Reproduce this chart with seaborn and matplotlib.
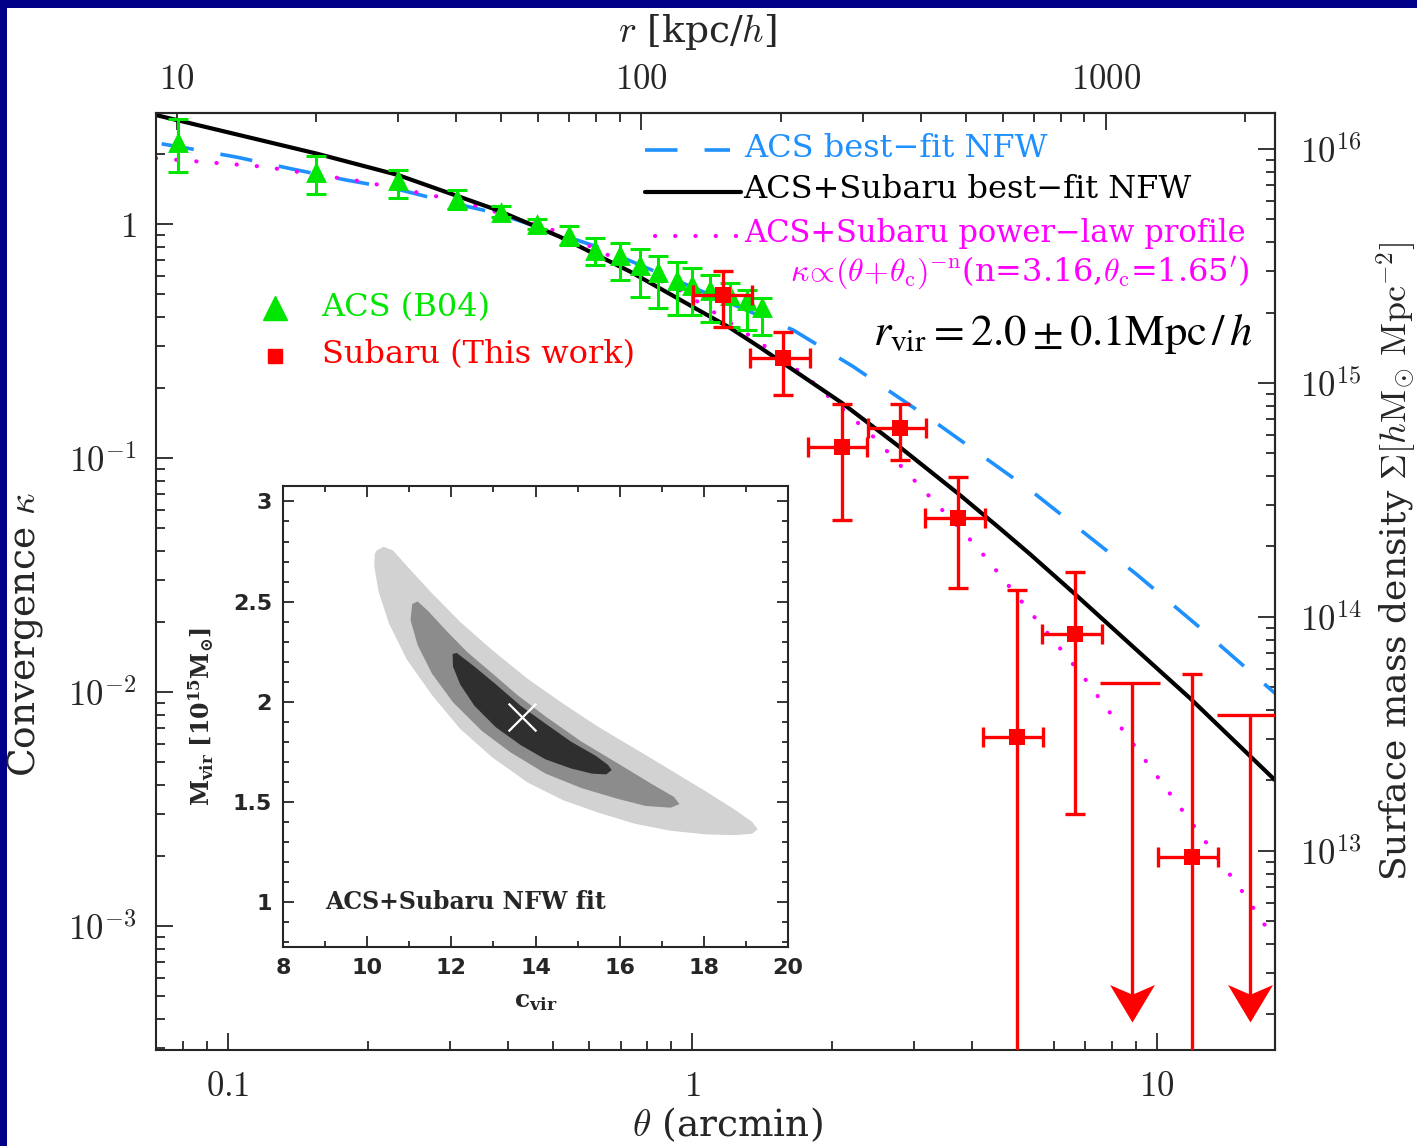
import numpy as np
import pandas as pd
import matplotlib
matplotlib.use('Agg')
import matplotlib.pyplot as plt
import seaborn as sns
from matplotlib.patches import Rectangle
from matplotlib.path import Path
from matplotlib.ticker import FuncFormatter, FixedLocator, NullFormatter, MultipleLocator

# ---- data ----
# ACS (B04) triangles: theta [arcmin], kappa, lower / upper error
acs_theta = [0.078, 0.155, 0.232, 0.311, 0.387, 0.462, 0.543, 0.617, 0.698, 0.771,
             0.843, 0.926, 1.0, 1.09, 1.204, 1.31, 1.41]
acs_kappa = [2.25, 1.67, 1.54, 1.275, 1.13, 1.0, 0.897, 0.774, 0.737, 0.668,
             0.624, 0.576, 0.548, 0.522, 0.497, 0.473, 0.442]
acs_err_lo = [0.58, 0.33, 0.25, 0.12, 0.06, 0.05, 0.08, 0.106, 0.16, 0.18,
              0.186, 0.168, 0.14, 0.14, 0.134, 0.12, 0.106]
acs_err_hi = [0.55, 0.28, 0.16, 0.125, 0.06, 0.05, 0.08, 0.095, 0.09, 0.114,
              0.106, 0.112, 0.10, 0.083, 0.063, 0.05, 0.041]

# Subaru (this work) squares
sub_theta = [1.165, 1.569, 2.096, 2.797, 3.734, 4.99, 6.66, 11.88]
sub_kappa = [0.497, 0.2667, 0.1117, 0.134, 0.0553, 0.00644, 0.0177, 0.00198]
sub_kerr = [0.135, 0.080, 0.0576, 0.036, 0.0275, 0.0209, 0.0147, 0.0099]
sub_theta_lo = [1.002, 1.33, 1.776, 2.39, 3.166, 4.23, 5.65, 10.07]
sub_theta_hi = [1.343, 1.79, 2.371, 3.19, 4.264, 5.69, 7.6, 13.55]

# Subaru upper limits
lim_theta = [8.82, 15.86]
lim_kappa = [0.01089, 0.00797]
lim_theta_lo = [7.54, 13.44]
lim_theta_hi = [10.15, 18.7]
arrow_tip = 3.9e-4

# model curves
nfw_theta = [0.07, 0.155, 0.232, 0.379, 0.518, 0.734, 1.204, 1.39, 2.096, 2.8,
             3.73, 4.59, 5.33, 6.66, 8.82, 11.78, 17.95]
nfw_kappa = [2.92, 2.0, 1.62, 1.148, 0.882, 0.626, 0.36, 0.299, 0.172, 0.111,
             0.0705, 0.050, 0.0388, 0.0262, 0.0158, 0.0094, 0.0042]
acs_nfw_theta = [0.072, 0.0815, 0.1044, 0.137, 0.18, 0.231, 0.296, 0.379, 0.622,
                 1.648, 2.22, 3.355, 5.33, 9.04, 12.18, 17.95]
acs_nfw_kappa = [2.2, 2.11, 1.93, 1.72, 1.54, 1.41, 1.245, 1.111, 0.80,
                 0.352, 0.2455, 0.1407, 0.073, 0.0318, 0.01933, 0.00987]
pl_theta = [0.07, 0.119, 0.1956, 0.321, 0.527, 0.94, 1.39, 1.762, 2.45, 4.09,
            6.94, 15.09, 17.95]
pl_kappa = [1.91, 1.758, 1.516, 1.245, 0.912, 0.522, 0.314, 0.222, 0.1234, 0.0418,
            0.01162, 0.00145, 0.00087]

# axis conversions
kpc_per_arcmin = 129.0
sigma_crit = 4.78e15

# inset: confidence contours in (c_vir, M_vir)
c_outer = [10.23, 10.39, 10.61, 11.03, 11.54, 12.21, 12.98, 13.82, 14.67, 15.51, 16.36,
           17.21, 18.05, 18.73, 19.15, 19.28, 19.15, 18.73, 18.05, 17.21, 16.36, 15.51,
           14.67, 13.82, 12.98, 12.21, 11.54, 10.94, 10.52, 10.27, 10.17, 10.18]
m_outer = [2.756, 2.774, 2.756, 2.658, 2.542, 2.399, 2.257, 2.114, 1.989, 1.873, 1.767,
           1.660, 1.553, 1.463, 1.401, 1.365, 1.342, 1.335, 1.339, 1.357, 1.392, 1.446,
           1.508, 1.597, 1.722, 1.865, 2.034, 2.212, 2.390, 2.551, 2.676, 2.738]
c_mid = [11.07, 11.20, 11.45, 11.88, 12.38, 12.98, 13.57, 14.24, 15.09, 15.94, 16.78,
         17.29, 17.42, 17.21, 16.61, 15.94, 15.09, 14.24, 13.40, 12.72, 12.04, 11.54,
         11.20, 11.03]
m_mid = [2.488, 2.501, 2.453, 2.355, 2.248, 2.141, 2.034, 1.927, 1.802, 1.695, 1.588,
         1.526, 1.490, 1.472, 1.481, 1.517, 1.570, 1.642, 1.749, 1.856, 1.998, 2.141,
         2.283, 2.408]
c_in = [12.03, 12.13, 12.55, 13.06, 13.65, 14.24, 14.84, 15.43, 15.72, 15.81, 15.68,
        15.34, 14.84, 14.24, 13.65, 13.06, 12.55, 12.21, 12.04]
m_in = [2.239, 2.244, 2.176, 2.087, 1.980, 1.891, 1.802, 1.731, 1.686, 1.660, 1.638,
        1.642, 1.668, 1.713, 1.784, 1.873, 1.980, 2.087, 2.176]
best_c = [13.67]
best_m = [1.927]

GREEN = '#00e600'
RED = '#ff0000'
BLUE = '#1e90ff'
MAGENTA = '#ff00ff'

sns.set_style('ticks')
plt.rcParams['font.family'] = ['DejaVu Serif', 'DejaVu Sans']
plt.rcParams['mathtext.fontset'] = 'cm'
plt.rcParams['axes.linewidth'] = 1.5


def log_ticks(lo, hi):
    """decade ticks and 2..9 minor ticks that fall inside [lo, hi]"""
    major, minor = [], []
    for e in range(int(np.floor(np.log10(lo))), int(np.ceil(np.log10(hi))) + 1):
        for m in range(1, 10):
            v = m * 10.0 ** e
            if lo <= v <= hi:
                (major if m == 1 else minor).append(v)
    return major, minor


fig = plt.figure(figsize=(14.17, 11.46), dpi=100)
fig.patch.set_facecolor('#000088')
fig.add_artist(Rectangle((7 / 1417, 0), 1, 1 - 8 / 1146, transform=fig.transFigure,
                         facecolor='white', edgecolor='none', zorder=-10))

ax = fig.add_axes([156 / 1417, 96 / 1146, 1119 / 1417, 937 / 1146])
ax.set_facecolor('white')
ax.set_xscale('log')
ax.set_yscale('log', nonpositive='clip')
xlo, xhi = 0.0700, 17.95
ylo, yhi = 2.95e-4, 2.98

# model curves
sns.lineplot(data=pd.DataFrame({'theta': acs_nfw_theta, 'kappa': acs_nfw_kappa}),
             x='theta', y='kappa', ax=ax, color=BLUE, lw=2.6, linestyle=(0, (9, 7.5)),
             estimator=None, sort=False, zorder=2)
sns.lineplot(data=pd.DataFrame({'theta': pl_theta, 'kappa': pl_kappa}),
             x='theta', y='kappa', ax=ax, color=MAGENTA, lw=3, linestyle=(0, (0.05, 4.8)),
             dash_capstyle='round', estimator=None, sort=False, zorder=2)
sns.lineplot(data=pd.DataFrame({'theta': nfw_theta, 'kappa': nfw_kappa}),
             x='theta', y='kappa', ax=ax, color='black', lw=3, estimator=None, sort=False,
             zorder=2.5)

# ACS points
ax.errorbar(acs_theta, acs_kappa, yerr=[acs_err_lo, acs_err_hi], fmt='none', ecolor=GREEN,
            elinewidth=2.2, capsize=7, capthick=2.2, zorder=3)
sns.scatterplot(x=acs_theta, y=acs_kappa, ax=ax, marker='^', s=15 ** 2, color=GREEN,
                edgecolor=GREEN, linewidth=0, zorder=3.5)

# Subaru points
sub_t = np.array(sub_theta)
ax.errorbar(sub_theta, sub_kappa, yerr=sub_kerr,
            xerr=[sub_t - np.array(sub_theta_lo), np.array(sub_theta_hi) - sub_t],
            fmt='none', ecolor=RED, elinewidth=2.4, capsize=7, capthick=2.4, zorder=4)
sns.scatterplot(x=sub_theta, y=sub_kappa, ax=ax, marker='s', s=11 ** 2, color=RED,
                edgecolor=RED, linewidth=0, zorder=4.5)

# upper limits: bin bar, vertical line and a notched arrow head
lim_t = np.array(lim_theta)
ax.errorbar(lim_theta, lim_kappa,
            xerr=[lim_t - np.array(lim_theta_lo), np.array(lim_theta_hi) - lim_t],
            fmt='none', ecolor=RED, elinewidth=2.4, capsize=0, zorder=4)
ax.vlines(lim_theta, [arrow_tip * 1.3] * len(lim_theta), lim_kappa, color=RED, lw=2.4,
          zorder=4)
head = Path([(0, 0), (-0.6, 1), (0, 0.74), (0.6, 1), (0, 0)],
            [Path.MOVETO, Path.LINETO, Path.LINETO, Path.LINETO, Path.CLOSEPOLY])
ax.plot(lim_theta, [arrow_tip] * len(lim_theta), marker=head, ms=54, color=RED,
        mew=0, ls='none', zorder=4)

ax.set_xlim(xlo, xhi)
ax.set_ylim(ylo, yhi)

# ticks
ax.tick_params(which='both', direction='in', top=False, right=False, width=1.3)
ax.tick_params(which='major', length=12, pad=14, labelsize=25)
ax.tick_params(which='minor', length=6.5)
mj, mn = log_ticks(xlo, xhi)
ax.xaxis.set_major_locator(FixedLocator(mj))
ax.xaxis.set_minor_locator(FixedLocator(mn))
mj, mn = log_ticks(ylo, yhi)
ax.yaxis.set_major_locator(FixedLocator(mj))
ax.yaxis.set_minor_locator(FixedLocator(mn))
ax.xaxis.set_minor_formatter(NullFormatter())
ax.yaxis.set_minor_formatter(NullFormatter())


def xfmt(v, pos):
    if v < 1:
        return r'$%g$' % v
    return r'$%d$' % round(v)


def yfmt(v, pos):
    e = int(round(np.log10(v)))
    if e == 0:
        return r'$1$'
    return r'$10^{%d}$' % e


ax.xaxis.set_major_formatter(FuncFormatter(xfmt))
ax.yaxis.set_major_formatter(FuncFormatter(yfmt))

ax.set_xlabel(r'$\theta$ (arcmin)', fontsize=27)
ax.xaxis.set_label_coords(0.511, -0.080)
ax.xaxis.label.set_va('center')
ax.set_ylabel(r'Convergence $\kappa$', fontsize=27)
ax.yaxis.set_label_coords(-0.117, 0.443)
ax.yaxis.label.set_va('center')

# top axis: r [kpc/h]
top = ax.secondary_xaxis('top', functions=(lambda t: t * kpc_per_arcmin,
                                           lambda r: r / kpc_per_arcmin))
top.tick_params(which='both', direction='in', width=1.3)
top.tick_params(which='major', length=12, pad=12, labelsize=25)
top.tick_params(which='minor', length=6.5)
mj, mn = log_ticks(xlo * kpc_per_arcmin, xhi * kpc_per_arcmin)
top.xaxis.set_major_locator(FixedLocator(mj))
top.xaxis.set_minor_locator(FixedLocator(mn))
top.xaxis.set_major_formatter(FuncFormatter(lambda v, p: r'$%d$' % round(v)))
top.xaxis.set_minor_formatter(NullFormatter())
ax.text(0.4835, 1.0865, r'$r$ [kpc/$h$]', transform=ax.transAxes, fontsize=27,
        ha='center', va='center')

# right axis: surface mass density
right = ax.secondary_yaxis('right', functions=(lambda k: k * sigma_crit,
                                               lambda s: s / sigma_crit))
right.tick_params(which='both', direction='in', width=1.3)
right.tick_params(which='major', length=12, pad=18, labelsize=25)
right.tick_params(which='minor', length=6.5)
mj, mn = log_ticks(ylo * sigma_crit, yhi * sigma_crit)
right.yaxis.set_major_locator(FixedLocator(mj))
right.yaxis.set_minor_locator(FixedLocator(mn))
right.yaxis.set_major_formatter(FuncFormatter(lambda v, p: r'$10^{%d}$' % round(np.log10(v))))
right.yaxis.set_minor_formatter(NullFormatter())
ax.text(1.109, 0.521, r'Surface mass density $\Sigma[h\mathrm{M}_{\odot}\ \mathrm{Mpc}^{-2}]$',
        transform=ax.transAxes, fontsize=26, rotation=90, ha='center', va='center')

# legends (drawn by hand, as in the original)
tr = ax.transAxes
ax.plot([0.437, 0.513], [0.9605, 0.9605], transform=tr, color=BLUE, lw=2.6,
        linestyle=(0, (9, 7.5)))
ax.text(0.526, 0.9626, 'ACS best\u2212fit NFW', transform=tr, color=BLUE, fontsize=23,
        va='center', ha='left')
ax.plot([0.437, 0.523], [0.9157, 0.9157], transform=tr, color='black', lw=3)
ax.text(0.5246, 0.918, 'ACS+Subaru best\u2212fit NFW', transform=tr, color='black',
        fontsize=23, va='center', ha='left')
ax.plot([0.446, 0.522], [0.8687, 0.8687], transform=tr, color=MAGENTA, lw=3,
        linestyle=(0, (0.05, 4.8)), dash_capstyle='round')
ax.text(0.526, 0.871, 'ACS+Subaru power\u2212law profile', transform=tr, color=MAGENTA,
        fontsize=22, va='center', ha='left')
ax.text(0.9777, 0.830,
        r'$\kappa\!\propto\!(\theta\!+\!\theta_\mathrm{c})^{-\mathrm{n}}$(n=3.16,$\theta_\mathrm{c}$=1.65$^{\prime}$)',
        transform=tr, color=MAGENTA, fontsize=23, va='center', ha='right')
ax.text(0.641, 0.752, r'$r_{\mathrm{vir}} = 2.0 \pm 0.1\mathrm{Mpc}\,/\,h$', transform=tr,
        color='black', fontsize=32, va='baseline', ha='left', math_fontfamily='stix')

ax.plot([0.1063], [0.792], transform=tr, marker='^', ms=17, color=GREEN, ls='none')
ax.text(0.148, 0.792, 'ACS (B04)', transform=tr, color=GREEN, fontsize=23, va='center')
ax.plot([0.1063], [0.7407], transform=tr, marker='s', ms=10, color=RED, ls='none')
ax.text(0.148, 0.7417, 'Subaru (This work)', transform=tr, color=RED, fontsize=23,
        va='center')

# ---- inset ----
axi = fig.add_axes([283 / 1417, 199 / 1146, 505 / 1417, 461 / 1146])
axi.set_facecolor('white')
axi.fill(c_outer, m_outer, color='#d2d2d2', lw=0, zorder=1)
axi.fill(c_mid, m_mid, color='#8c8c8c', lw=0, zorder=2)
axi.fill(c_in, m_in, color='#2f2f2f', lw=0, zorder=3)
sns.scatterplot(x=best_c, y=best_m, ax=axi, marker='x', s=20 ** 2, color='white',
                linewidth=1.6, zorder=4)
axi.set_xlim(8, 20)
axi.set_ylim(0.777, 3.077)
axi.xaxis.set_major_locator(MultipleLocator(2))
axi.xaxis.set_minor_locator(MultipleLocator(1))
axi.yaxis.set_major_locator(MultipleLocator(0.5))
axi.yaxis.set_minor_locator(MultipleLocator(0.1))
axi.yaxis.set_major_formatter(FuncFormatter(lambda v, p: '%g' % v))
axi.tick_params(which='both', direction='in', top=True, right=True, width=1.3)
axi.tick_params(which='major', length=8, pad=8, labelsize=16)
axi.tick_params(which='minor', length=4.5)
for lab in axi.get_xticklabels() + axi.get_yticklabels():
    lab.set_fontweight('bold')
    lab.set_family('DejaVu Sans')
axi.set_xlabel(r'c$_{\mathbf{vir}}$', fontsize=18, fontweight='bold',
               math_fontfamily='dejavuserif', labelpad=8)
axi.set_ylabel(r'M$_{\mathbf{vir}}$ [10$^{\mathbf{15}}$M$_{\mathbf{\odot}}$]', fontsize=17,
               fontweight='bold', math_fontfamily='dejavuserif', labelpad=12)
axi.text(9.0, 1.0, 'ACS+Subaru NFW fit', fontsize=17, fontweight='bold', va='center',
         ha='left')
for s in axi.spines.values():
    s.set_linewidth(1.5)

fig.savefig('out.png', dpi=100, facecolor=fig.get_facecolor())
